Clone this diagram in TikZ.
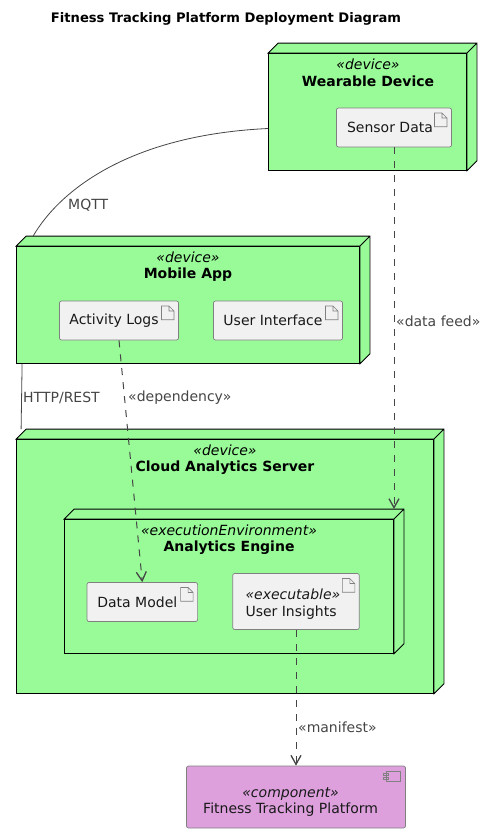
\documentclass[tikz,border=0pt]{standalone}
\usepackage{fontspec}
\setmainfont{DejaVu Sans}
\usepackage{xcolor}
\usepackage{tikz}
\usetikzlibrary{arrows.meta,positioning}

\definecolor{nodegreen}{HTML}{98FB98}
\definecolor{compplum}{HTML}{DDA0DD}
\definecolor{artgray}{HTML}{F1F1F1}
\definecolor{edgegray}{HTML}{808080}
\definecolor{linkgray}{HTML}{454545}

\begin{document}
\begin{tikzpicture}[
    x=1pt, y=-1pt,
    font=\fontsize{14}{16.5}\selectfont,
    devicebox/.style={
        draw=black,
        fill=nodegreen,
        line width=0.8pt,
        minimum width=#1,
        inner sep=0pt,
        append after command={
            \pgfextra{\let\boxname\tikzlastnode
            \draw[fill=nodegreen, draw=black, line width=0.8pt]
                (\boxname.north west) -- ([shift={(10pt,10pt)}]\boxname.north west)
                -- ([shift={(10pt,10pt)}]\boxname.north east)
                -- ([shift={(10pt,10pt)}]\boxname.south east)
                -- (\boxname.south east) -- (\boxname.north east) -- cycle
                (\boxname.north east) -- ([shift={(10pt,10pt)}]\boxname.north east);
            }
        }
    },
    artifact/.style={
        draw=edgegray,
        fill=artgray,
        rounded corners=2pt,
        line width=0.7pt,
        inner sep=0pt,
        align=left,
        text=black!90,
        path picture={
            \draw[draw=edgegray, line width=0.6pt, sharp corners]
                ([shift={(-17pt,-5pt)}]path picture bounding box.north east) -- ++(7.5,0) -- ++(5,5) -- ++(0,8.7) -- ++(-12.5,0) -- cycle
                ([shift={(-9.5pt,-5pt)}]path picture bounding box.north east) -- ++(0,5) -- ++(5,0);
        }
    },
    component/.style={
        draw=edgegray,
        fill=compplum,
        rounded corners=2pt,
        line width=0.7pt,
        inner sep=0pt,
        path picture={
            \draw[draw=edgegray, fill=compplum, line width=0.6pt, sharp corners]
                ([shift={(-19.5pt,-5pt)}]path picture bounding box.north east) rectangle ++(14.7,10)
                ([shift={(-22.2pt,-7.3pt)}]path picture bounding box.north east) rectangle ++(5.4,2.4)
                ([shift={(-22.2pt,-11.3pt)}]path picture bounding box.north east) rectangle ++(5.4,2.4);
        }
    },
    boxtitle/.style={align=center, inner sep=0pt},
    linklabel/.style={text=linkgray, font=\fontsize{14}{16}\selectfont, inner sep=0pt},
    link/.style={draw=linkgray, line width=0.8pt},
    dep/.style={link, line width=1pt, dash pattern=on 7pt off 7pt},
    deparrow/.style={dep, -{Straight Barb[length=9pt,width=10pt,line width=1.3pt]}}
]
\useasboundingbox (0,0) rectangle (492,833);

\node[font=\fontsize{13.1}{16}\selectfont\bfseries, inner sep=0pt] (title) at (226,19) {Fitness Tracking Platform Deployment Diagram};

% device boxes
\node[devicebox=198pt, minimum height=117pt] (wearable) at (367.5,112) {};
\node[devicebox=343pt, minimum height=117pt] (mobile) at (188,305) {};
\node[devicebox=417pt, minimum height=254pt] (cloud) at (225,566.5) {};
\node[devicebox=329pt, minimum height=134pt] (engine) at (229,586.5) {};

\node[boxtitle] (wearablelabel) at (368,73) {\textit{«device»}\\\textbf{Wearable Device}};
\node[boxtitle] (mobilelabel) at (188,266.5) {\textit{«device»}\\\textbf{Mobile App}};
\node[boxtitle] (cloudlabel) at (225,459.5) {\textit{«device»}\\\textbf{Cloud Analytics Server}};
\node[boxtitle] (enginelabel) at (229,539.5) {\textit{«executionEnvironment»}\\\textbf{Analytics Engine}};

% artifacts
\node[artifact, minimum width=115pt, minimum height=39pt] (sensor) at (394,127.5) {\hspace*{1pt}Sensor Data\hspace*{9pt}};
\node[artifact, minimum width=119pt, minimum height=39pt] (activity) at (119,320.5) {Activity Logs\hspace*{10pt}};
\node[artifact, minimum width=129pt, minimum height=39pt] (interface) at (278,320.5) {User Interface\hspace*{10pt}};
\node[artifact, minimum width=110.6pt, minimum height=39pt] (datamodel) at (142.3,602) {Data Model\hspace*{10pt}};
\node[artifact, minimum width=126.6pt, minimum height=56pt] (insights) at (296,601.5) {};
\node[boxtitle, align=left, text=black!90, anchor=west] (insightslabel) at (245.3,604) {\textit{«executable»}\\User Insights};

\node[component, minimum width=219pt, minimum height=62pt] (platform) at (296,797) {};
\node[boxtitle, text=black!90] (platformlabel) at (290.6,802) {\textit{«component»}\\Fitness Tracking Platform};

% free ends of the links
\coordinate (enginetop) at (394,509);

% links
\draw[link] ([yshift=-16.5pt]wearable.west) .. controls (130,135) and (60,190) .. ([xshift=17pt,yshift=10pt]mobile.north west);
\draw[link] ([xshift=6pt]mobile.south west) -- ([xshift=5pt,yshift=10pt]cloud.north west);
\draw[deparrow] (sensor.south) -- (enginetop);
\draw[deparrow] (activity.south) -- (datamodel.north);
\draw[deparrow] (insights.south) -- (platform.north -| insights.south);

% link labels
\node[linklabel, anchor=west] (mqttlabel) at (68,205) {MQTT};
\node[linklabel, anchor=west] (httplabel) at (23,398) {HTTP/REST};
\node[linklabel, anchor=west] (deplabel) at (128,398) {«dependency»};
\node[linklabel, anchor=west] (feedlabel) at (396,321) {«data feed»};
\node[linklabel, anchor=west] (manifestlabel) at (298,727) {«manifest»};
\end{tikzpicture}
\end{document}
